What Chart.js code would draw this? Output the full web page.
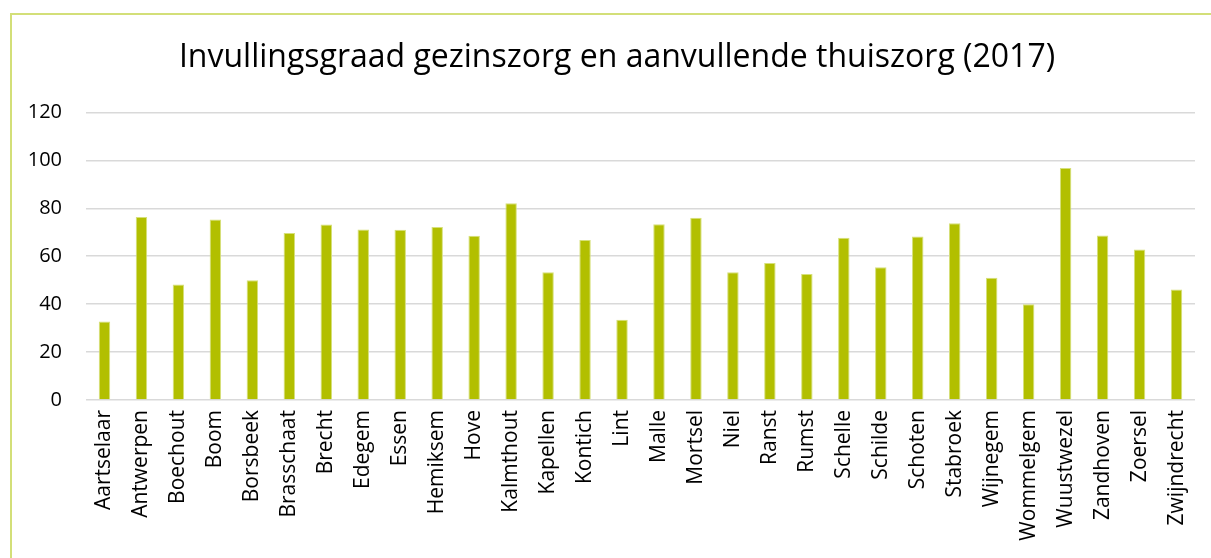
<!DOCTYPE html>
<html>
<head>
<meta charset="utf-8">
<script src="https://cdn.jsdelivr.net/npm/chart.js@4"></script>
<style>
  html, body { margin: 0; padding: 0; background: #fff; overflow: hidden; }
  #wrap { position: relative; width: 1211px; height: 558px; overflow: hidden; }
  #frame { position: absolute; left: 10px; top: 13px; width: 1300px; height: 700px;
           border-left: 2px solid #d3df78; border-top: 2px solid #d3df78; box-sizing: border-box; }
  canvas { position: absolute; left: 0; top: 0; }
</style>
</head>
<body>
<div id="wrap">
  <div id="frame"></div>
  <!-- canvas iets breder dan het venster: de grafiek loopt in het origineel rechts door -->
  <canvas id="chartCanvas" width="1234" height="558"></canvas>
</div>
<script>
const gemeenten = ['Aartselaar','Antwerpen','Boechout','Boom','Borsbeek','Brasschaat','Brecht','Edegem','Essen','Hemiksem','Hove','Kalmthout','Kapellen','Kontich','Lint','Malle','Mortsel','Niel','Ranst','Rumst','Schelle','Schilde','Schoten','Stabroek','Wijnegem','Wommelgem','Wuustwezel','Zandhoven','Zoersel','Zwijndrecht'];
const invulling = [32.8,76.4,48.2,75.3,50.0,69.7,73.2,71.1,71.0,72.2,68.5,82.1,53.3,66.8,33.5,73.3,76.0,53.3,57.2,52.6,67.7,55.4,68.2,73.8,51.0,40.0,96.8,68.6,62.8,46.1];
const yTicks = [0,20,40,60,80,100,120];
const titel = 'Invullingsgraad gezinszorg en aanvullende thuiszorg (2017)';

const ctx = document.getElementById('chartCanvas').getContext('2d');
const chart = new Chart(ctx, {
    type: 'bar',
    data: { labels: gemeenten, datasets: [{ data: invulling, backgroundColor: '#b2bf00', borderColor: '#d6e07a', borderWidth: {top:1,left:1,right:1,bottom:0}, categoryPercentage: 1, barPercentage: 0.31 }] },
    options: {
        responsive: false,
        animation: false,
        layout: { padding: 0 },
        plugins: {
            legend: { display: false },
            tooltip: { enabled: false },
            title: { display: true, text: titel, color: '#000', font: { family: 'Open Sans', size: 32, weight: 'normal' }, padding: { top: 39, bottom: 35 } }
        },
        scales: {
            x: {
                grid: { display: false, drawTicks: false },
                border: { display: false },
                ticks: { color: '#000', font: { family: 'Open Sans', size: 21 }, minRotation: 90, maxRotation: 90, autoSkip: false, padding: 10 },
                afterFit: s => { s.height = 158; }
            },
            y: {
                min: 0, max: 120,
                grid: { color: '#d9d9d9', lineWidth: 1.5, drawTicks: false },
                border: { display: false },
                afterBuildTicks: s => { s.ticks = yTicks.map(v => ({ value: v })); },
                ticks: { color: '#000', font: { family: 'Open Sans', size: 20 }, padding: 24 },
                afterFit: s => { s.width = 86; }
            },
            // lege as rechts: houdt ruimte vrij zonder de titel te verschuiven
            rechts: {
                type: 'linear', position: 'right', min: 0, max: 120,
                grid: { display: false, drawTicks: false },
                border: { display: false },
                ticks: { display: false },
                afterFit: s => { s.width = 39; }
            }
        }
    }
});
</script>
</body>
</html>
